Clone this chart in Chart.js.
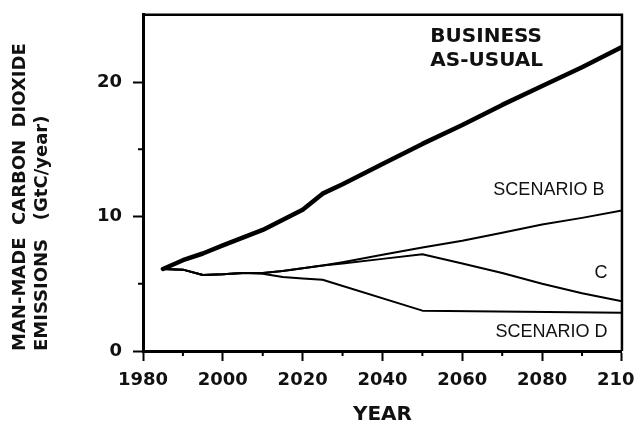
<!DOCTYPE html>
<html>
<head>
<meta charset="utf-8">
<script src="https://cdn.jsdelivr.net/npm/chart.js@4.4.1/dist/chart.umd.min.js"></script>
<style>
  html, body { margin: 0; padding: 0; background: #fff; overflow: hidden; }
  #wrap { width: 634px; height: 421px; overflow: hidden; }
  /* canvas is a bit larger than the window; the top tick padding is trimmed off */
  #co2Chart { display: block; margin-top: -7px; }
</style>
</head>
<body>
<div id="wrap"><canvas id="co2Chart" width="656" height="440"></canvas></div>
<script>
// emissions (GtC/year)
const bauYears = [1985, 1990, 1995, 2000, 2010, 2020, 2025, 2030, 2040, 2050, 2060, 2070, 2080, 2090, 2100];
const bauValues = [6.1, 6.75, 7.25, 7.85, 9.0, 10.5, 11.7, 12.4, 13.9, 15.4, 16.8, 18.3, 19.7, 21.1, 22.6];

const bYears = [1985, 1990, 1995, 2000, 2005, 2010, 2015, 2020, 2025, 2030, 2040, 2050, 2060, 2070, 2080, 2090, 2100];
const bValues = [6.1, 6.05, 5.65, 5.7, 5.8, 5.8, 5.95, 6.15, 6.35, 6.6, 7.15, 7.7, 8.2, 8.8, 9.4, 9.9, 10.45];

const cYears = [1985, 1990, 1995, 2000, 2005, 2010, 2015, 2020, 2025, 2030, 2040, 2050, 2060, 2070, 2080, 2090, 2100];
const cValues = [6.1, 6.05, 5.65, 5.7, 5.8, 5.8, 5.95, 6.15, 6.35, 6.5, 6.85, 7.2, 6.5, 5.8, 5.0, 4.3, 3.7];

const dYears = [1985, 1990, 1995, 2000, 2005, 2010, 2015, 2020, 2025, 2050, 2100];
const dValues = [6.1, 6.05, 5.65, 5.7, 5.8, 5.75, 5.5, 5.4, 5.3, 3.0, 2.85];

const xLabelYears = [1980, 2000, 2020, 2040, 2060, 2080, 2100];
const yLabelValues = [0, 10, 20];

const toPoints = (xs, ys) => xs.map((x, i) => ({ x: x, y: ys[i] }));

// text labels placed in data units (year, value)
const notes = [
    { text: "BUSINESS", year: 2052, value: 23.0, align: "left", font: "bold 20px 'DejaVu Sans'" },
    { text: "AS-USUAL", year: 2052, value: 21.2, align: "left", font: "bold 20px 'DejaVu Sans'" },
    { text: "SCENARIO B", year: 2095.6, value: 11.6, align: "right", font: "18px 'Liberation Sans'" },
    { text: "C", year: 2096.4, value: 5.4, align: "right", font: "18px 'Liberation Sans'" },
    { text: "SCENARIO D", year: 2096.4, value: 1.07, align: "right", font: "18px 'Liberation Sans'" }
];

const framePlugin = {
    id: "frame",
    afterDraw(chart) {
        const { ctx, chartArea } = chart;
        const xs = chart.scales.x;
        const ys = chart.scales.y;
        ctx.save();
        ctx.strokeStyle = "#000";
        // top and right border
        ctx.lineWidth = 2.5;
        ctx.beginPath();
        ctx.moveTo(chartArea.left, chartArea.top);
        ctx.lineTo(chartArea.right, chartArea.top);
        ctx.lineTo(chartArea.right, chartArea.bottom);
        ctx.stroke();
        // short minor ticks
        ctx.lineWidth = 2;
        ctx.beginPath();
        xs.ticks.forEach(t => {
            if (!xLabelYears.includes(t.value)) {
                const px = xs.getPixelForValue(t.value);
                ctx.moveTo(px, chartArea.bottom);
                ctx.lineTo(px, chartArea.bottom + 5);
            }
        });
        ys.ticks.forEach(t => {
            if (!yLabelValues.includes(t.value) && t.value < ys.max) {
                const py = ys.getPixelForValue(t.value);
                ctx.moveTo(chartArea.left, py);
                ctx.lineTo(chartArea.left - 5, py);
            }
        });
        ctx.stroke();
        // scenario labels
        ctx.fillStyle = "#111";
        ctx.textBaseline = "alphabetic";
        notes.forEach(n => {
            ctx.font = n.font;
            ctx.textAlign = n.align;
            ctx.fillText(n.text, xs.getPixelForValue(n.year), ys.getPixelForValue(n.value));
        });
        ctx.restore();
    }
};

const lineStyle = (w) => ({
    borderColor: "#000",
    borderWidth: w,
    pointRadius: 0,
    tension: 0,
    fill: false,
    borderJoinStyle: "round",
    borderCapStyle: "round"
});

const ctx = document.getElementById("co2Chart").getContext("2d");

new Chart(ctx, {
    type: "line",
    data: {
        datasets: [
            Object.assign({ label: "Scenario D", data: toPoints(dYears, dValues) }, lineStyle(2)),
            Object.assign({ label: "Scenario C", data: toPoints(cYears, cValues) }, lineStyle(2)),
            Object.assign({ label: "Scenario B", data: toPoints(bYears, bValues) }, lineStyle(2)),
            Object.assign({ label: "Business-as-usual", data: toPoints(bauYears, bauValues) }, lineStyle(4.5))
        ]
    },
    options: {
        responsive: false,
        animation: false,
        devicePixelRatio: 1,
        layout: { padding: { top: 15, left: 0, right: 0, bottom: 0 } },
        plugins: {
            legend: { display: false },
            tooltip: { enabled: false }
        },
        scales: {
            x: {
                type: "linear",
                min: 1980,
                max: 2100,
                afterFit: (scale) => { scale.height = 82; },
                ticks: {
                    stepSize: 10,
                    autoSkip: false,
                    maxRotation: 0,
                    padding: 9,
                    color: "#111",
                    font: { family: "'DejaVu Sans'", size: 18, weight: "bold" },
                    callback: (v) => xLabelYears.includes(v) ? String(v) : ""
                },
                grid: {
                    drawOnChartArea: false,
                    drawTicks: true,
                    tickLength: 10,
                    tickWidth: 2,
                    tickColor: (c) => xLabelYears.includes(c.tick && c.tick.value) ? "#000" : "rgba(0,0,0,0)"
                },
                border: { display: true, color: "#000", width: 3 },
                title: {
                    display: true,
                    text: "YEAR",
                    color: "#111",
                    font: { family: "'DejaVu Sans'", size: 20, weight: "bold", lineHeight: 1 },
                    padding: { top: 0, bottom: 8.6 }
                }
            },
            y: {
                min: 0,
                max: 25,
                afterFit: (scale) => { scale.width = 143; },
                ticks: {
                    stepSize: 5,
                    padding: 11,
                    color: "#111",
                    font: { family: "'DejaVu Sans'", size: 18, weight: "bold" },
                    callback: (v) => yLabelValues.includes(v) ? String(v) : ""
                },
                grid: {
                    drawOnChartArea: false,
                    drawTicks: true,
                    tickLength: 10,
                    tickWidth: 2,
                    tickColor: (c) => yLabelValues.includes(c.tick && c.tick.value) ? "#000" : "rgba(0,0,0,0)"
                },
                border: { display: true, color: "#000", width: 3 },
                title: {
                    display: true,
                    text: ["MAN-MADE  CARBON  DIOXIDE", "EMISSIONS   (GtC/year)"],
                    align: "start",
                    color: "#111",
                    font: { family: "'DejaVu Sans'", size: 18, weight: "bold", lineHeight: 1.23 },
                    padding: { top: 9, bottom: 0 }
                }
            }
        }
    },
    plugins: [framePlugin]
});
</script>
</body>
</html>
